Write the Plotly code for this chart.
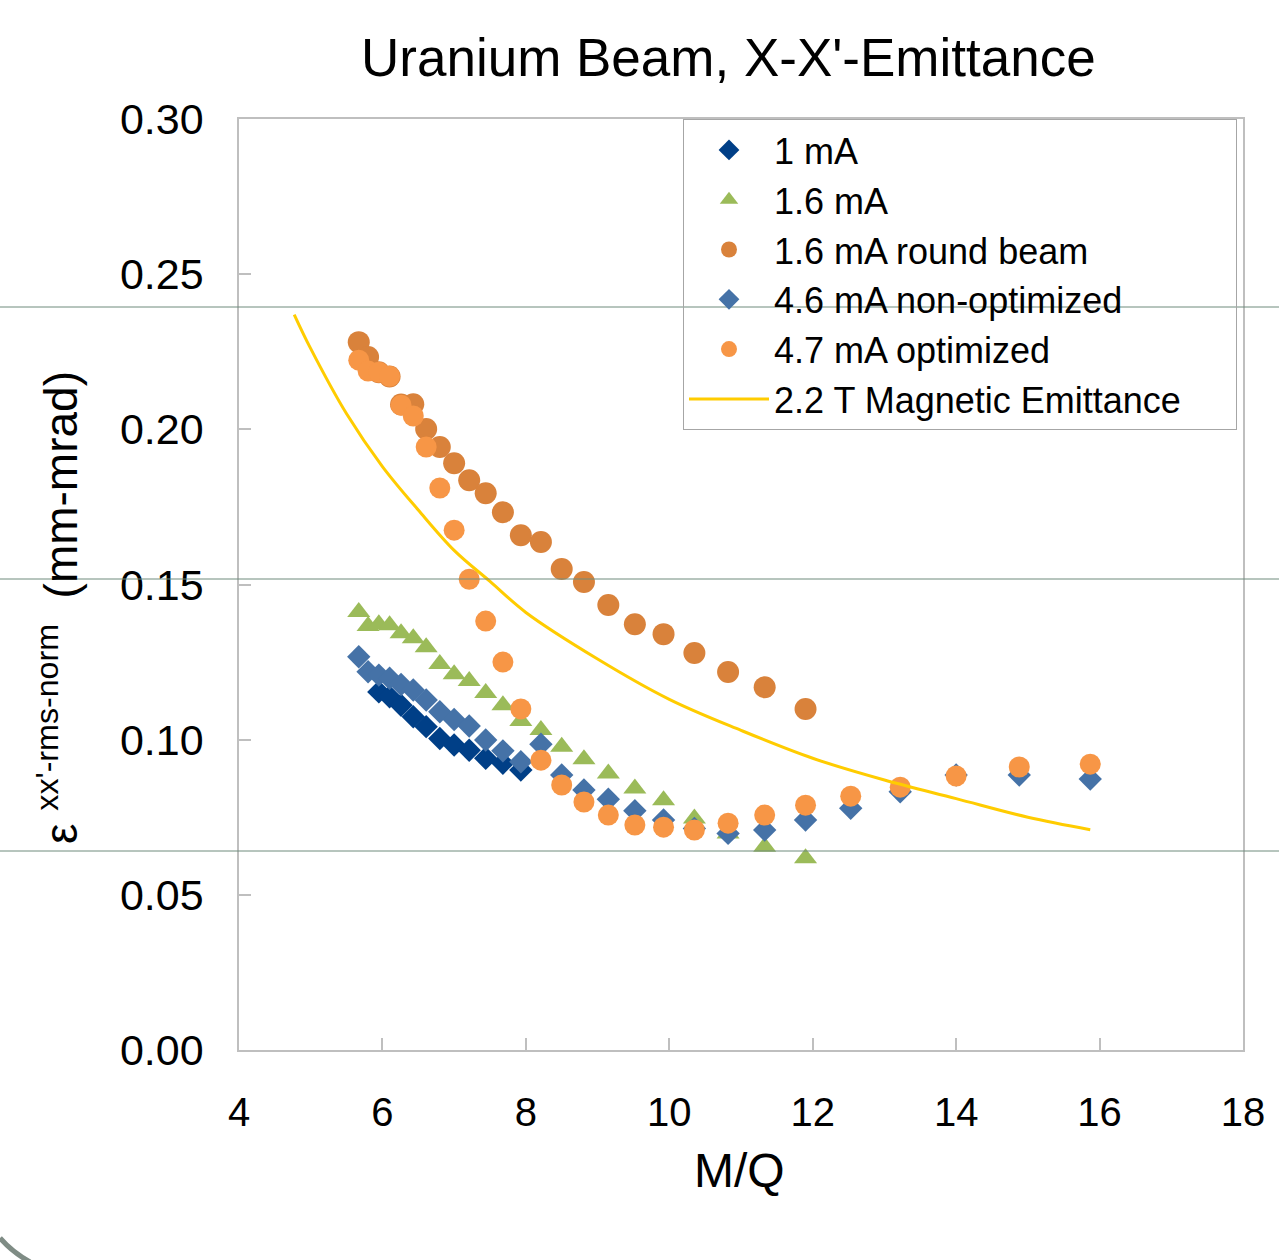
import plotly.graph_objects as go

# M/Q values (uranium charge states)
mq_all = [5.67, 5.80, 5.95, 6.10, 6.26, 6.43, 6.61, 6.80, 7.00, 7.21, 7.44, 7.68, 7.93,
          8.21, 8.50, 8.81, 9.15, 9.52, 9.92, 10.35, 10.82, 11.33, 11.90, 12.53, 13.22,
          14.00, 14.88, 15.87]

mq_1ma = [5.95, 6.10, 6.26, 6.43, 6.61, 6.80, 7.00, 7.21, 7.44, 7.68, 7.93]
em_1ma = [0.1154, 0.1138, 0.1111, 0.1074, 0.1042, 0.1004, 0.0983, 0.0966, 0.0940, 0.0924, 0.0902]

mq_16ma = mq_all[:23]
em_16ma = [0.1411, 0.1366, 0.1372, 0.1369, 0.1343, 0.1327, 0.1298, 0.1244, 0.1211, 0.1189,
           0.1150, 0.1111, 0.1060, 0.1031, 0.0977, 0.0937, 0.0891, 0.0843, 0.0805, 0.0746,
           0.0698, 0.0655, 0.0618]

mq_round = mq_all[:23]
em_round = [0.2281, 0.2233, 0.2184, 0.2170, 0.2080, 0.2081, 0.2001, 0.1943, 0.1891, 0.1836,
            0.1794, 0.1733, 0.1659, 0.1637, 0.1550, 0.1508, 0.1434, 0.1372, 0.1340, 0.1279,
            0.1218, 0.1169, 0.1099]

mq_46ma = mq_all
em_46ma = [0.1267, 0.1219, 0.1208, 0.1198, 0.1178, 0.1160, 0.1128, 0.1090, 0.1065, 0.1044,
           0.0999, 0.0964, 0.0929, 0.0985, 0.0886, 0.0838, 0.0808, 0.0771, 0.0741, 0.0714,
           0.0698, 0.0709, 0.0741, 0.0779, 0.0832, 0.0886, 0.0886, 0.0873]

mq_47ma = mq_all
em_47ma = [0.2223, 0.2188, 0.2184, 0.2171, 0.2078, 0.2043, 0.1943, 0.1811, 0.1675, 0.1517,
           0.1382, 0.1250, 0.1099, 0.0934, 0.0854, 0.0799, 0.0757, 0.0725, 0.0718, 0.0709,
           0.0731, 0.0757, 0.0789, 0.0818, 0.0847, 0.0883, 0.0912, 0.0921]

mq_mag = [4.77, 5.0, 5.5, 6.0, 6.5, 7.0, 7.5, 8.0, 9.0, 10.0, 11.0, 12.0, 13.0, 14.0, 15.0, 15.87]
em_mag = [0.237, 0.226, 0.205, 0.188, 0.174, 0.161, 0.151, 0.141, 0.126, 0.113, 0.103, 0.094,
          0.087, 0.081, 0.075, 0.071]

x_ticks = [4, 6, 8, 10, 12, 14, 16, 18]
y_ticks = [0.00, 0.05, 0.10, 0.15, 0.20, 0.25, 0.30]

FONT = "Arial, Liberation Sans, sans-serif"
PAD = "\u00a0" * 5  # widens the legend box to the plot's right edge

fig = go.Figure()
fig.add_trace(go.Scatter(x=mq_1ma, y=em_1ma, mode="markers", name="1 mA",
                         marker=dict(symbol="diamond", size=18, color="#003F87")))
fig.add_trace(go.Scatter(x=mq_16ma, y=em_16ma, mode="markers", name="1.6 mA",
                         marker=dict(symbol="triangle-up", size=20, color="#9BBB59")))
fig.add_trace(go.Scatter(x=mq_round, y=em_round, mode="markers", name="1.6 mA round beam",
                         marker=dict(symbol="circle", size=22, color="#D9823B")))
fig.add_trace(go.Scatter(x=mq_46ma, y=em_46ma, mode="markers", name="4.6 mA non-optimized",
                         marker=dict(symbol="diamond", size=18, color="#4572A7")))
fig.add_trace(go.Scatter(x=mq_47ma, y=em_47ma, mode="markers", name="4.7 mA optimized",
                         marker=dict(symbol="circle", size=21, color="#F79646")))
fig.add_trace(go.Scatter(x=mq_mag, y=em_mag, mode="lines", name="2.2 T Magnetic Emittance" + PAD,
                         line=dict(color="#FFCC00", width=3, shape="spline")))

L, R, T, B = 239, 1243, 119, 1050
W, H = 1279, 1260

def px2paper(px, py):
    return (px - L) / (R - L), (B - py) / (B - T)

axis_common = dict(showline=True, linecolor="#BFBFBF", linewidth=1.5, mirror=True,
                   ticks="inside", ticklen=12, tickcolor="#BFBFBF", tickwidth=1.5,
                   showgrid=False, zeroline=False)

fig.update_layout(
    width=W, height=H,
    margin=dict(l=L, r=W - R, t=T, b=H - B),
    paper_bgcolor="white", plot_bgcolor="white",
    font=dict(family=FONT, color="black"),
    showlegend=True,
    legend=dict(x=px2paper(683, 0)[0], y=1.0, xanchor="left", yanchor="top",
                bgcolor="rgba(0,0,0,0)", bordercolor="#A6A6A6", borderwidth=1,
                font=dict(family=FONT, size=36, color="black"),
                itemwidth=80, tracegroupgap=0),
    xaxis=dict(range=[4, 18], tickvals=x_ticks, ticktext=[str(v) for v in x_ticks],
               ticklabelstandoff=26, tickfont=dict(family=FONT, size=40, color="black"),
               **axis_common),
    yaxis=dict(range=[0, 0.30], tickvals=y_ticks, ticktext=["%.2f" % v for v in y_ticks],
               ticklabelstandoff=25, tickfont=dict(family=FONT, size=43, color="black"),
               **axis_common),
)

ann = []
tx, ty = px2paper(728, 57)
ann.append(dict(text="Uranium Beam, X-X'-Emittance", x=tx, y=ty, xref="paper", yref="paper",
                showarrow=False, xanchor="center", yanchor="middle",
                font=dict(family=FONT, size=53, color="black")))
mx, my = px2paper(739, 1170)
ann.append(dict(text="M/Q", x=mx, y=my, xref="paper", yref="paper",
                showarrow=False, xanchor="center", yanchor="middle",
                font=dict(family=FONT, size=48, color="black")))
yx, yy = px2paper(58, 608)
ann.append(dict(text="ε <sup>xx'-rms-norm</sup>  (mm-mrad)", x=yx, y=yy, xref="paper", yref="paper",
                showarrow=False, xanchor="center", yanchor="middle", textangle=-90,
                font=dict(family=FONT, size=46, color="black")))
fig.update_layout(annotations=ann)

# slide decoration lines
shapes = []
for py in [307, 579, 851]:
    _, yp = px2paper(0, py)
    x0, _ = px2paper(0, 0)
    x1, _ = px2paper(W, 0)
    shapes.append(dict(type="line", xref="paper", yref="paper", x0=x0, x1=x1, y0=yp, y1=yp,
                       line=dict(color="#6E8B7D", width=1), layer="above"))
a = px2paper(0, 1238)
c = px2paper(12, 1252)
e = px2paper(30, 1262)
shapes.append(dict(type="path", xref="paper", yref="paper",
                   path="M %f,%f Q %f,%f %f,%f" % (a[0], a[1], c[0], c[1], e[0], e[1]),
                   line=dict(color="#7F8C85", width=5), layer="above"))
fig.update_layout(shapes=shapes)

fig.write_html("out.html")
